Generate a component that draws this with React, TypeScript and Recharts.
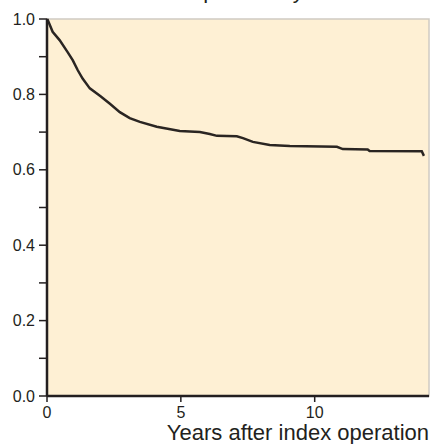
import React from 'react';
import { LineChart, Line, XAxis, YAxis, ReferenceArea, Label } from 'recharts';

// Kaplan-Meier style curve
const years = [0, 0.03, 0.21, 0.47, 0.77, 0.96, 1.15, 1.33, 1.6, 2.0, 2.35, 2.72, 3.09, 3.47, 4.1, 4.96, 5.71, 6.08, 6.35, 7.09, 7.32, 7.69, 8.32, 9.07, 10.83, 11.05, 11.98, 12.05, 14.0, 14.08];
const survival = [1.0, 0.997, 0.966, 0.944, 0.912, 0.891, 0.864, 0.842, 0.816, 0.795, 0.775, 0.753, 0.737, 0.727, 0.714, 0.703, 0.7, 0.695, 0.69, 0.689, 0.684, 0.674, 0.666, 0.663, 0.661, 0.655, 0.654, 0.65, 0.649, 0.637];

const xTicks = [0, 5, 10];
const yTicks = [0, 0.1, 0.2, 0.3, 0.4, 0.5, 0.6, 0.7, 0.8, 0.9, 1.0];
const labeledY = [0, 0.2, 0.4, 0.6, 0.8, 1.0];

const title = 'Survival probability';
const xLabel = 'Years after index operation';

const data = years.map((t, i) => ({ t, s: survival[i] }));

const FONT = '"Liberation Sans", Arial, Helvetica, sans-serif';
const INK = '#231f20';

export default function App() {
  return (
    <div style={{ position: 'absolute', left: 0, top: 0, width: 431, height: 444, overflow: 'hidden', background: '#fff' }}>
      {/* title is cut off at the top in the original, only descenders show */}
      <div style={{ position: 'absolute', left: 119, top: -22, fontFamily: FONT, fontSize: 22, color: INK, whiteSpace: 'nowrap' }}>
        {title}
      </div>
      <LineChart width={431} height={444} data={data} margin={{ top: 19, right: 2, bottom: 0, left: 0 }}>
        <ReferenceArea x1={0} x2={14.27} y1={0} y2={1} fill="#fef0d4" fillOpacity={1} stroke="#cfcac2" strokeWidth={1.5} ifOverflow="visible" />
        <XAxis
          dataKey="t"
          type="number"
          domain={[0, 14.27]}
          ticks={xTicks}
          height={48}
          axisLine={{ stroke: INK, strokeWidth: 2.5 }}
          tickLine={{ stroke: INK, strokeWidth: 1.5 }}
          tickSize={6}
          tickMargin={5}
          tick={{ fill: INK, fontSize: 16, fontFamily: FONT }}
        >
          <Label
            content={() => (
              <text x={429} y={440} textAnchor="end" fill={INK} fontSize={22} fontFamily={FONT}>
                {xLabel}
              </text>
            )}
          />
        </XAxis>
        <YAxis
          type="number"
          domain={[0, 1]}
          ticks={yTicks}
          width={47}
          axisLine={{ stroke: INK, strokeWidth: 2.5 }}
          tickLine={{ stroke: INK, strokeWidth: 1.5 }}
          tickSize={8}
          tickMargin={4}
          interval={0}
          tickFormatter={(v: number) => (labeledY.some(l => Math.abs(l - v) < 1e-6) ? v.toFixed(1) : '')}
          tick={{ fill: INK, fontSize: 16, fontFamily: FONT }}
        />
        <Line
          type="linear"
          dataKey="s"
          stroke="#2a2522"
          strokeWidth={2.5}
          dot={false}
          isAnimationActive={false}
        />
      </LineChart>
    </div>
  );
}
